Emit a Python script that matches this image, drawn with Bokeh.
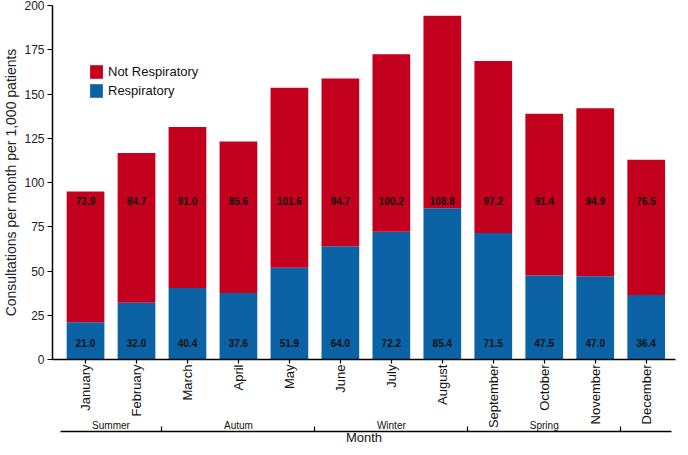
from math import pi
from bokeh.plotting import figure
from bokeh.models import (FixedTicker, LinearAxis, Range1d, Legend, LegendItem,
                          LabelSet, ColumnDataSource)
from bokeh.core.properties import value
from bokeh.embed import file_html
from bokeh.resources import INLINE

# ---- data ----
months = ["January", "February", "March", "April", "May", "June", "July",
          "August", "September", "October", "November", "December"]
respiratory = [21.0, 32.0, 40.4, 37.6, 51.9, 64.0, 72.2, 85.4, 71.5, 47.5, 47.0, 36.4]
not_respiratory = [73.9, 84.7, 91.0, 85.6, 101.6, 94.7, 100.2, 108.8, 97.2, 91.4, 94.9, 76.5]
seasons = ["Summer", "Autum", "Winter", "Spring"]
season_centers = [1.5, 4, 7, 10]
season_bounds = [2.5, 5.5, 8.5, 11.5]
y_ticks = [0, 25, 50, 75, 100, 125, 150, 175, 200]

RED = "#C3001E"
BLUE = "#0B63A6"
FONT = "Liberation Sans"

x_pos = list(range(1, len(months) + 1))
src = ColumnDataSource(dict(
    x=x_pos,
    resp=respiratory,
    notresp=not_respiratory,
    resp_lbl=["%.1f" % v for v in respiratory],
    not_lbl=["%.1f" % v for v in not_respiratory],
    resp_y=[9.4] * len(months),
    not_y=[89.3] * len(months),
))

p = figure(width=680, height=447, x_range=Range1d(0.352, 12.575), y_range=Range1d(0, 200),
           output_backend="svg", toolbar_location=None,
           min_border_top=5, min_border_right=5, min_border_left=0, min_border_bottom=0)
p.outline_line_color = None
p.xgrid.visible = False
p.ygrid.visible = False
p.background_fill_color = "white"

rs = p.vbar_stack(["resp", "notresp"], x="x", width=0.74, color=[BLUE, RED],
                  line_color=None, source=src)

for col, ycol in (("resp_lbl", "resp_y"), ("not_lbl", "not_y")):
    p.add_layout(LabelSet(x="x", y=ycol, text=col, source=src, text_align="center",
                          text_baseline="middle", text_font_size=value("10px"),
                          text_font_style=value("bold"), text_font=value(FONT),
                          text_color=value("#111111")))

# x axis (months)
xa = p.xaxis[0]
xa.ticker = FixedTicker(ticks=x_pos)
xa.major_label_overrides = {i: m for i, m in zip(x_pos, months)}
xa.major_label_orientation = pi / 2
xa.major_label_text_font_size = "13px"
xa.major_label_text_font = FONT
xa.major_label_text_color = "#111111"
xa.major_label_standoff = 1
xa.major_tick_in = 0
xa.major_tick_out = 4
xa.minor_tick_line_color = None
xa.axis_line_width = 1.5
xa.major_tick_line_width = 1.2

# y axis
ya = p.yaxis[0]
ya.ticker = FixedTicker(ticks=y_ticks)
ya.major_label_text_font_size = "12px"
ya.major_label_text_font = FONT
ya.major_label_text_color = "#222222"
ya.major_label_standoff = 3
ya.major_tick_in = 0
ya.major_tick_out = 5
ya.minor_tick_line_color = None
ya.axis_line_width = 1.5
ya.axis_label = "Consultations per month per 1,000 patients"
ya.axis_label_text_font_size = "14px"
ya.axis_label_text_font_style = "normal"
ya.axis_label_text_font = FONT
ya.axis_label_text_color = "#222222"
ya.axis_label_standoff = 2

# season axis: labels sit just above its line
sa = LinearAxis(ticker=FixedTicker(ticks=season_centers, minor_ticks=season_bounds),
                bounds=(0.5, 12.5), axis_label="Month",
                major_label_overrides={c: s for c, s in zip(season_centers, seasons)},
                major_tick_line_color=None, major_tick_in=0, major_tick_out=0,
                minor_tick_in=5, minor_tick_out=0, axis_line_width=1.5,
                minor_tick_line_width=1.2, major_label_standoff=-12,
                major_label_text_font_size="10px", major_label_text_font=FONT,
                major_label_text_color="#111111",
                axis_label_standoff=-4, axis_label_text_font_size="13px",
                axis_label_text_line_height=1.0,
                axis_label_text_font_style="normal", axis_label_text_font=FONT,
                axis_label_text_color="#111111")
p.add_layout(sa, "below")

legend = Legend(items=[LegendItem(label="Not Respiratory", renderers=[rs[1]]),
                       LegendItem(label="Respiratory", renderers=[rs[0]])],
                location=(36, 260), glyph_width=16, glyph_height=17, label_height=17,
                spacing=2, padding=0, margin=0, border_line_color=None,
                background_fill_alpha=0, label_text_font_size="13px",
                label_text_font=FONT, label_standoff=4, label_text_color="#111111")
p.add_layout(legend)

open("out.html", "w").write(file_html(p, INLINE))
